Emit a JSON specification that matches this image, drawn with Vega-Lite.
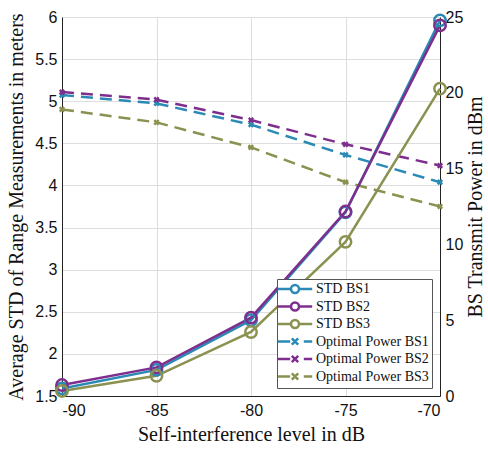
{
  "$schema": "https://vega.github.io/schema/vega-lite/v6.json",
  "width": 378,
  "height": 379,
  "autosize": "none",
  "padding": {"left": 62, "top": 17, "right": 48, "bottom": 53},
  "background": "white",
  "config": {
    "view": {"stroke": null},
    "axis": {
      "labelFont": "Liberation Sans",
      "labelFontSize": 16,
      "labelColor": "#111",
      "titleFont": "Liberation Serif",
      "titleFontSize": 20,
      "titleFontWeight": "normal",
      "titleColor": "#111",
      "domainColor": "#222",
      "ticks": false,
      "gridColor": "#dedede",
      "gridWidth": 1
    },
    "legend": {
      "labelFont": "Liberation Serif",
      "labelFontSize": 14,
      "labelColor": "#111"
    }
  },
  "data": {
    "values": [
      {"kind": "STD", "series": "STD BS1", "x": -90, "v": 1.59},
      {"kind": "STD", "series": "STD BS1", "x": -85, "v": 1.81},
      {"kind": "STD", "series": "STD BS1", "x": -80, "v": 2.40},
      {"kind": "STD", "series": "STD BS1", "x": -75, "v": 3.68},
      {"kind": "STD", "series": "STD BS1", "x": -70, "v": 5.96},
      {"kind": "STD", "series": "STD BS2", "x": -90, "v": 1.63},
      {"kind": "STD", "series": "STD BS2", "x": -85, "v": 1.84},
      {"kind": "STD", "series": "STD BS2", "x": -80, "v": 2.43},
      {"kind": "STD", "series": "STD BS2", "x": -75, "v": 3.69},
      {"kind": "STD", "series": "STD BS2", "x": -70, "v": 5.90},
      {"kind": "STD", "series": "STD BS3", "x": -90, "v": 1.56},
      {"kind": "STD", "series": "STD BS3", "x": -85, "v": 1.74},
      {"kind": "STD", "series": "STD BS3", "x": -80, "v": 2.26},
      {"kind": "STD", "series": "STD BS3", "x": -75, "v": 3.33},
      {"kind": "STD", "series": "STD BS3", "x": -70, "v": 5.15},
      {"kind": "Power", "series": "Optimal Power BS1", "x": -90, "v": 19.85},
      {"kind": "Power", "series": "Optimal Power BS1", "x": -85, "v": 19.3},
      {"kind": "Power", "series": "Optimal Power BS1", "x": -80, "v": 17.9},
      {"kind": "Power", "series": "Optimal Power BS1", "x": -75, "v": 15.9},
      {"kind": "Power", "series": "Optimal Power BS1", "x": -70, "v": 14.1},
      {"kind": "Power", "series": "Optimal Power BS2", "x": -90, "v": 20.05},
      {"kind": "Power", "series": "Optimal Power BS2", "x": -85, "v": 19.55},
      {"kind": "Power", "series": "Optimal Power BS2", "x": -80, "v": 18.2},
      {"kind": "Power", "series": "Optimal Power BS2", "x": -75, "v": 16.6},
      {"kind": "Power", "series": "Optimal Power BS2", "x": -70, "v": 15.2},
      {"kind": "Power", "series": "Optimal Power BS3", "x": -90, "v": 18.9},
      {"kind": "Power", "series": "Optimal Power BS3", "x": -85, "v": 18.05},
      {"kind": "Power", "series": "Optimal Power BS3", "x": -80, "v": 16.4},
      {"kind": "Power", "series": "Optimal Power BS3", "x": -75, "v": 14.1},
      {"kind": "Power", "series": "Optimal Power BS3", "x": -70, "v": 12.5}
    ]
  },
  "encoding": {
    "x": {
      "field": "x",
      "type": "quantitative",
      "scale": {"domain": [-90, -70], "nice": false},
      "axis": {
        "values": [-90, -85, -80, -75, -70],
        "labelExpr": "'' + datum.value",
        "labelPadding": 6,
        "title": "Self-interference level in dB",
        "titlePadding": 6,
        "grid": true
      }
    },
    "color": {
      "field": "series",
      "type": "nominal",
      "scale": {
        "domain": ["STD BS1", "STD BS2", "STD BS3", "Optimal Power BS1", "Optimal Power BS2", "Optimal Power BS3"],
        "range": ["#2a8ab5", "#7e2f8e", "#8b9150", "#2a8ab5", "#7e2f8e", "#8b9150"]
      },
      "legend": {
        "title": null,
        "orient": "bottom-right",
        "offset": 8,
        "fillColor": "white",
        "strokeColor": "#555",
        "padding": 3,
        "labelFont": "Liberation Serif",
        "labelFontSize": 14,
        "labelColor": "#111",
        "labelLimit": 300,
        "symbolSize": 64,
        "symbolStrokeWidth": 2.5,
        "symbolOffset": 8,
        "labelOffset": 14,
        "rowPadding": -0.5,
        "encode": {
          "labels": {
            "update": {
              "font": {"value": "Liberation Serif"},
              "fontSize": {"value": 14},
              "fill": {"value": "#111"}
            }
          },
          "symbols": {
            "update": {
              "shape": {"signal": "indexof(datum.value, 'STD') == 0 ? 'M-4.3,0L-1,0M1,0L4.3,0M1,0A1,1 0 1 1 -1,0A1,1 0 1 1 1,0' : 'M-4.3,0L-1.2,0M-0.8,-0.8L0.8,0.8M-0.8,0.8L0.8,-0.8M2.2,0L4.3,0'"},
              "size": {"value": 64},
              "strokeDash": {"value": []},
              "fill": {"value": "transparent"},
              "opacity": {"value": 1}
            }
          }
        }
      }
    }
  },
  "layer": [
    {
      "transform": [{"filter": "datum.kind == 'Power'"}],
      "encoding": {
        "y": {
          "field": "v",
          "type": "quantitative",
          "scale": {"domain": [0, 25], "nice": false},
          "axis": {
            "orient": "right",
            "values": [0, 5, 10, 15, 20, 25],
            "labelExpr": "'' + datum.value",
            "labelPadding": 5,
            "grid": false,
            "title": "BS Transmit Power in dBm",
            "titleAngle": 270,
            "titleBaseline": "top",
            "titlePadding": 3
          }
        }
      },
      "mark": {
        "type": "line",
        "strokeWidth": 2.5,
        "strokeDash": [12, 7],
        "point": {"shape": "M-1,-1L1,1M-1,1L1,-1", "size": 20, "strokeWidth": 2.5, "filled": false}
      }
    },
    {
      "transform": [{"filter": "datum.kind == 'STD'"}],
      "encoding": {
        "y": {
          "field": "v",
          "type": "quantitative",
          "scale": {"domain": [1.5, 6], "nice": false},
          "axis": {
            "orient": "left",
            "values": [1.5, 2, 2.5, 3, 3.5, 4, 4.5, 5, 5.5, 6],
            "labelExpr": "'' + datum.value",
            "labelPadding": 5,
            "grid": true,
            "title": "Average STD of Range Measurements in meters",
            "titlePadding": 8
          }
        }
      },
      "mark": {
        "type": "line",
        "strokeWidth": 2.5,
        "point": {"shape": "circle", "size": 130, "strokeWidth": 2.5, "filled": false}
      }
    }
  ],
  "resolve": {"scale": {"y": "independent"}}
}
